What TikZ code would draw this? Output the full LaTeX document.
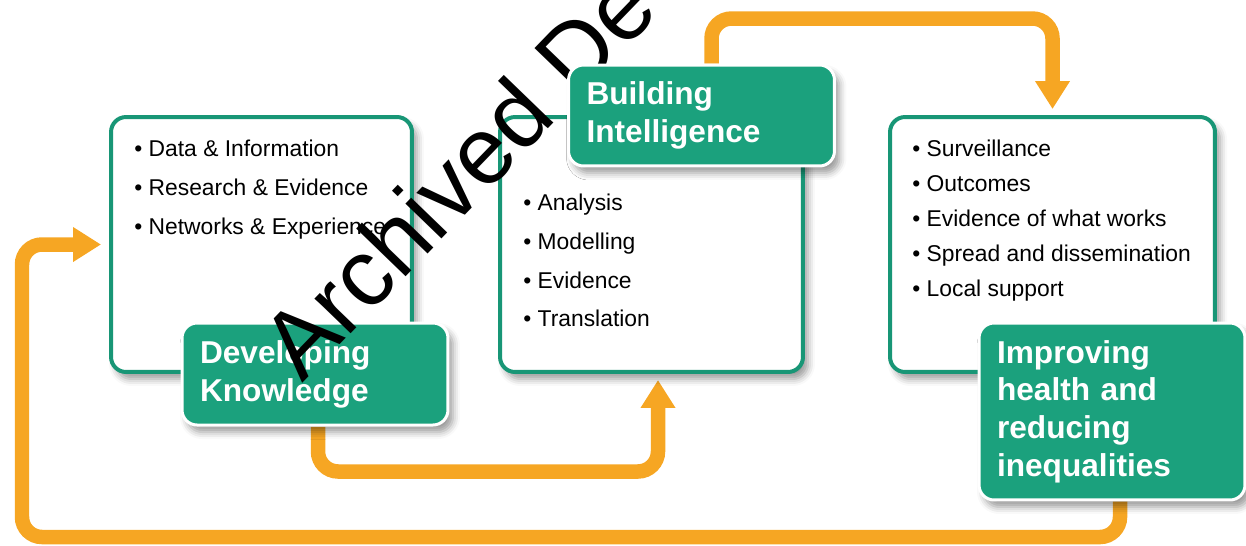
\documentclass[tikz,border=0pt]{standalone}
\usepackage{fontspec}
\setmainfont{Liberation Sans}
\usetikzlibrary{arrows.meta,shadows.blur}
\definecolor{boxgreen}{RGB}{24,150,118}
\definecolor{titlegreen}{RGB}{27,161,125}
\definecolor{floworange}{RGB}{246,166,35}
\pgfdeclarelayer{background}
\pgfsetlayers{background,main}
\begin{document}
\begin{tikzpicture}[x=0.02cm,y=-0.02cm,
    infobox/.style={draw=boxgreen,line width=0.08cm,fill=white,rounded corners=0.3cm,
      blur shadow={shadow xshift=0.1cm,shadow yshift=-0.14cm,shadow blur radius=0.14cm,shadow opacity=40}},
    itemlist/.style={inner sep=0pt,align=left,font=\fontsize{13}{22}\selectfont},
    titlebox/.style={draw=white,line width=0.06cm,fill=titlegreen,rounded corners=0.3cm,
      text=white,align=left,text width=4.6cm,inner xsep=0.36cm,
      font=\bfseries\fontsize{18}{21.5}\selectfont,
      blur shadow={shadow xshift=0.1cm,shadow yshift=-0.14cm,shadow blur radius=0.14cm,shadow opacity=40}},
    flow/.style={draw=floworange,line width=0.29cm,rounded corners=0.4cm,
      -{Triangle[width=0.66cm,length=0.56cm]}}]

    \useasboundingbox (0,0) rectangle (1246,545);
    \clip (0,0) rectangle (1246,545);

    % developing knowledge
    \node[infobox,minimum width=6.02cm,minimum height=5.1cm] (dkbox) at (261.5,244.5) {};
    \node[itemlist,anchor=north west] (dklist) at (134,140)
      {• Data \& Information\\• Research \& Evidence\\• Networks \& Experience};
    \node[titlebox,minimum height=2.04cm] (dk) at (315,374) {Developing\\Knowledge};

    % building intelligence
    \node[infobox,minimum width=6.06cm,minimum height=5.1cm] (bibox) at (651.5,244.5) {};
    \node[itemlist,anchor=north west] (bilist) at (523,194)
      {• Analysis\\• Modelling\\• Evidence\\• Translation};

    \node[rotate=46,anchor=base west,inner sep=0pt,font=\fontsize{54}{54}\selectfont] (stamp) at (302,384) {Archived De};

    \node[titlebox,minimum height=2.02cm] (bi) at (701.5,115.5) {Building\\Intelligence};

    % improving health
    \node[infobox,minimum width=6.5cm,minimum height=5.1cm] (ihbox) at (1052.5,244.5) {};
    \node[itemlist,anchor=north west,font=\fontsize{13}{19.8}\selectfont] (ihlist) at (912,140)
      {• Surveillance\\• Outcomes\\• Evidence of what works\\• Spread and dissemination\\• Local support};
    \node[titlebox,minimum height=3.54cm] (ih) at (1112,411.5) {Improving\\health and\\reducing\\inequalities};

    \coordinate (loop) at (22,537);

    \begin{pgfonlayer}{background}
      \draw[flow] ([xshift=0.06cm]dk.south) -- ++(0,45) -| ([xshift=0.13cm,yshift=-0.12cm]bibox.south);
      \draw[flow] ([xshift=0.2cm]bi.north) -- ++(0,-45) -| ([yshift=0.12cm]ihbox.north);
      \draw[flow] ([xshift=0.16cm]ih.south) |- (loop) |- ([xshift=-0.16cm]dkbox.west);
    \end{pgfonlayer}

  \end{tikzpicture}
\end{document}
